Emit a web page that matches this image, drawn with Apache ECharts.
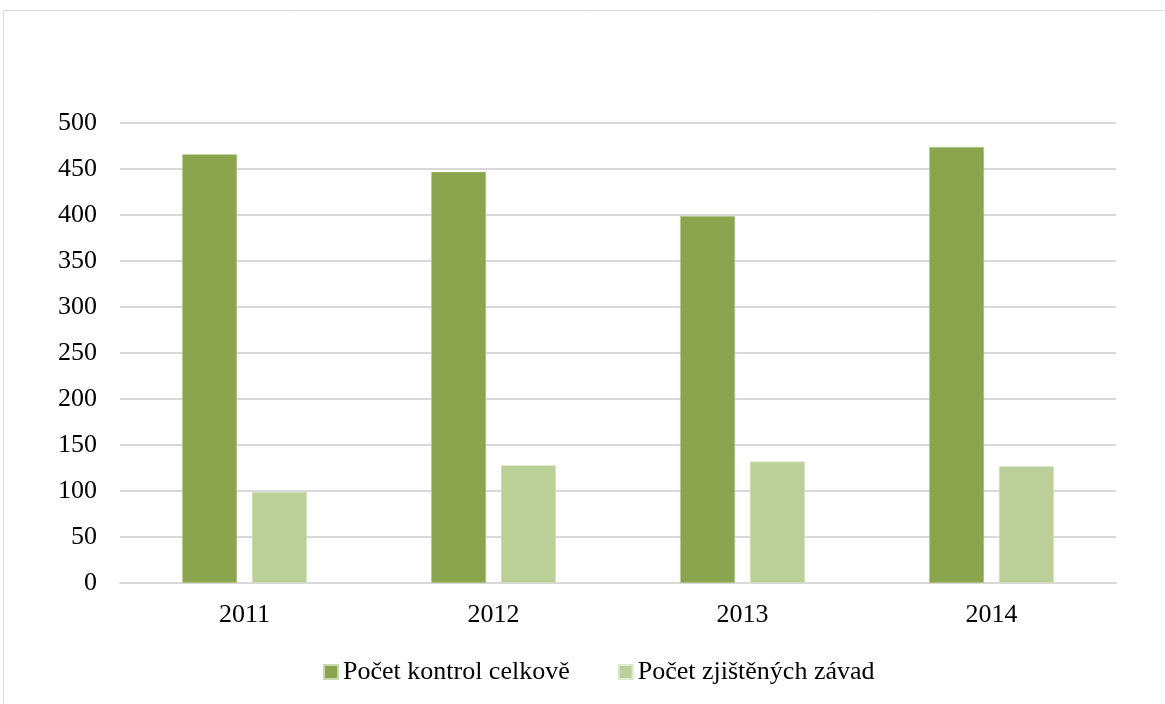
<!DOCTYPE html>
<html>
<head>
<meta charset="utf-8">
<script src="https://cdn.jsdelivr.net/npm/echarts@6/dist/echarts.min.js"></script>
<style>
  html, body { margin: 0; padding: 0; background: #fff; }
  #chart_bar { width: 1165px; height: 704px; }
</style>
</head>
<body>
<div id="chart_bar"></div>
<script>
// data
var years = ['2011', '2012', '2013', '2014'];
var kontrolyCelkem = [466, 447, 399, 474];
var zjisteneZavady = [99, 128, 132, 127];
var seriesNames = ['Počet kontrol celkově', 'Počet zjištěných závad'];

var font = '"Liberation Serif", "Times New Roman", serif';

var myChart = echarts.init(document.getElementById('chart_bar'));
myChart.setOption({
    animation: false,
    color: ['#8ba54f', '#bbcf98'],
    textStyle: { fontFamily: font },
    graphic: [{
        type: 'rect',
        shape: { x: 3.5, y: 10.5, width: 1300, height: 900 },
        style: { fill: 'none', stroke: '#d9d9d9', lineWidth: 1 },
        silent: true
    }],
    grid: {
        top: 123,
        left: 120,
        right: 49,
        bottom: 121
    },
    legend: {
        top: 654,
        left: 318,
        itemWidth: 14,
        itemHeight: 14,
        itemGap: 48,
        icon: 'rect',
        textStyle: { fontFamily: font, fontSize: 26, color: '#000' },
        data: seriesNames
    },
    xAxis: {
        type: 'category',
        data: years,
        axisTick: { show: false },
        axisLine: { lineStyle: { color: '#d9d9d9', width: 2 } },
        axisLabel: { fontFamily: font, fontSize: 26, color: '#000', margin: 19 }
    },
    yAxis: {
        type: 'value',
        min: 0,
        max: 500,
        interval: 50,
        axisLine: { show: false },
        axisTick: { show: false },
        splitLine: { lineStyle: { color: '#d9d9d9', width: 2 } },
        axisLabel: { fontFamily: font, fontSize: 26, color: '#000', margin: 23 }
    },
    series: [
        {
            name: seriesNames[0],
            type: 'bar',
            barWidth: 55,
            barGap: '27%',
            itemStyle: { borderColor: '#c9d8b0', borderWidth: 0.5 },
            data: kontrolyCelkem
        },
        {
            name: seriesNames[1],
            type: 'bar',
            barWidth: 55,
            barGap: '27%',
            itemStyle: { borderColor: '#dfe8d0', borderWidth: 0.5 },
            data: zjisteneZavady
        }
    ]
});
</script>
</body>
</html>
